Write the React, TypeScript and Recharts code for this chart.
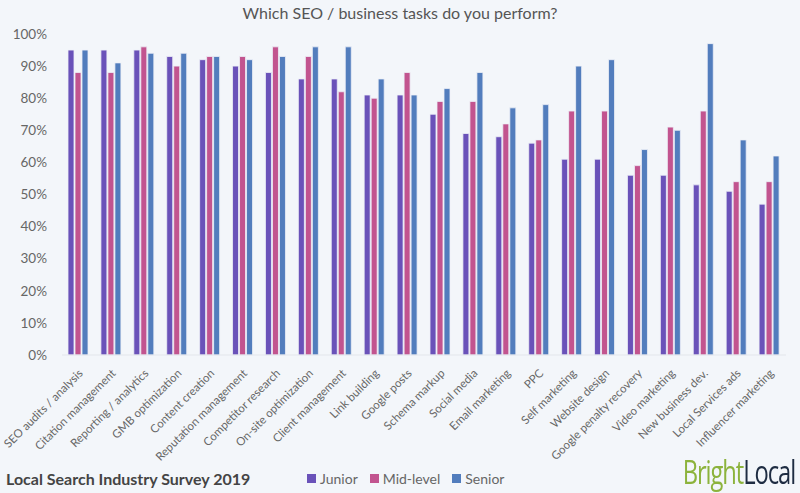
import { BarChart, Bar, XAxis, YAxis } from 'recharts';

const tasks = [
  'SEO audits / analysis', 'Citation management', 'Reporting / analytics', 'GMB optimization',
  'Content creation', 'Reputation management', 'Competitor research', 'On-site optimization',
  'Client management', 'Link building', 'Google posts', 'Schema markup', 'Social media',
  'Email marketing', 'PPC', 'Self marketing', 'Website design', 'Google penalty recovery',
  'Video marketing', 'New business dev.', 'Local Services ads', 'Influencer marketing',
]
const junior = [95, 95, 95, 93, 92, 90, 88, 86, 86, 81, 81, 75, 69, 68, 66, 61, 61, 56, 56, 53, 51, 47]
const midLevel = [88, 88, 96, 90, 93, 93, 96, 93, 82, 80, 88, 79, 79, 72, 67, 76, 76, 59, 71, 76, 54, 54]
const senior = [95, 91, 94, 94, 93, 92, 93, 96, 96, 86, 81, 83, 88, 77, 78, 90, 92, 64, 70, 97, 67, 62]
const yTicks = [0, 10, 20, 30, 40, 50, 60, 70, 80, 90, 100]

const series = [
  { key: 'Junior', color: '#6a52b9' },
  { key: 'Mid-level', color: '#c2548f' },
  { key: 'Senior', color: '#527dbd' },
]

const data = tasks.map((task, i) => ({
  task,
  Junior: junior[i],
  'Mid-level': midLevel[i],
  Senior: senior[i],
}))

const font = 'Lato, "Open Sans", sans-serif'

// rotated category labels, anchored at their end
const AngledTick = (props: any) => {
  const { x, y, payload } = props
  return (
    <g transform={`translate(${x + 5},${y + 11})`}>
      <text transform="rotate(-45)" textAnchor="end" fontSize={11.5} fill="#666" fontFamily={font}>
        {payload.value}
      </text>
    </g>
  )
}

const App = () => {
  return (
    <div style={{ position: 'fixed', left: 0, top: 0, width: 800, height: 493, background: '#f3f6fa', fontFamily: font }}>
      <div style={{ position: 'absolute', top: 3, width: 800, textAlign: 'center', fontSize: 16, color: '#555' }}>
        Which SEO / business tasks do you perform?
      </div>
      <BarChart
        width={800}
        height={493}
        data={data}
        margin={{ top: 34, right: 14, left: 0, bottom: 0 }}
        barSize={6}
        barGap={1}
      >
        <YAxis
          domain={[0, 100]}
          ticks={yTicks}
          width={62}
          axisLine={false}
          tickLine={false}
          tickMargin={9}
          tickFormatter={(v) => `${v}%`}
          tick={{ fontSize: 13.5, fill: '#666', fontFamily: font }}
          interval={0}
        />
        <XAxis
          dataKey="task"
          interval={0}
          height={138}
          tickLine={false}
          axisLine={{ stroke: '#e3e6eb' }}
          tick={<AngledTick />}
        />
        {series.map((s) => (
          <Bar key={s.key} dataKey={s.key} fill={s.color} stroke="#eef0f8" strokeWidth={0.8} isAnimationActive={false} />
        ))}
      </BarChart>
      <div style={{ position: 'absolute', left: 6, top: 469, fontSize: 16, fontWeight: 700, color: '#444' }}>
        Local Search Industry Survey 2019
      </div>
      <div style={{ position: 'absolute', left: 307, top: 470, display: 'flex', gap: 12, fontSize: 14, color: '#666' }}>
        {series.map((s) => (
          <span key={s.key} style={{ display: 'flex', alignItems: 'center' }}>
            <span style={{ width: 9, height: 9, background: s.color, marginRight: 4, display: 'inline-block' }} />
            {s.key}
          </span>
        ))}
      </div>
      <div
        style={{
          position: 'absolute', right: 5, top: 449, fontSize: 33, letterSpacing: -1.5,
          transform: 'scaleX(0.72)', transformOrigin: 'right center',
          fontFamily: '"Liberation Sans Narrow", "Open Sans", sans-serif',
        }}
      >
        <span style={{ color: '#8cb33c' }}>Bright</span>
        <span style={{ color: '#1e2c42' }}>Local</span>
      </div>
    </div>
  )
}

export default App
